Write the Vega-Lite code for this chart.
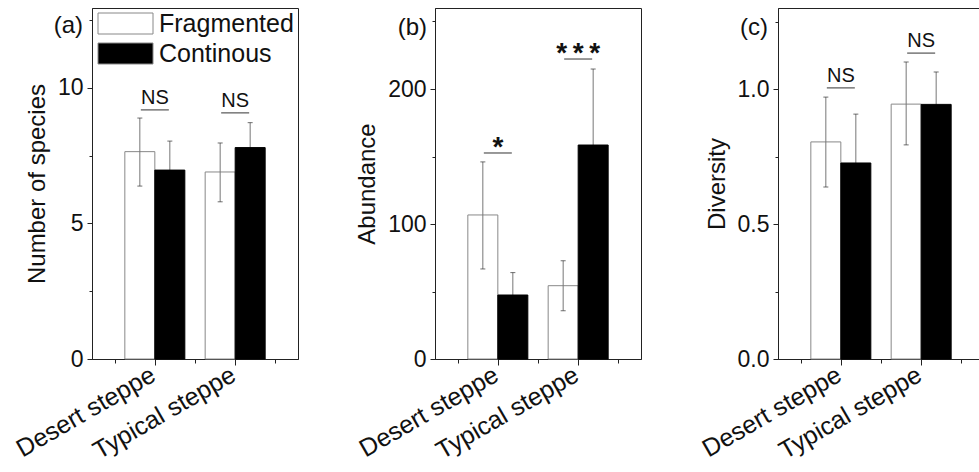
{
  "$schema": "https://vega.github.io/schema/vega-lite/v6.json",
  "autosize": {"type": "none"},
  "padding": {"left": 92, "top": 8, "right": 887, "bottom": 464},
  "background": "white",
  "config": {
    "font": "Liberation Sans",
    "view": {"stroke": "#222", "strokeWidth": 1},
    "axis": {"domainColor": "#222", "tickColor": "#222", "labelColor": "#111", "titleColor": "#111", "labelFontSize": 23, "titleFontSize": 24, "titleFontWeight": "normal", "grid": false, "labelFont": "Liberation Sans", "titleFont": "Liberation Sans", "labelPadding": 4, "titlePadding": 8},
    "title": {"font": "Liberation Sans", "fontSize": 24, "fontWeight": "normal", "color": "#111"}
  },
  "datasets": {
    "bars": [
      {"panel": "a", "habitat": "Desert steppe", "pos": 1, "group": "Fragmented", "mean": 7.65, "lo": 6.38, "hi": 8.89},
      {"panel": "a", "habitat": "Desert steppe", "pos": 1, "group": "Continous", "mean": 6.97, "lo": 5.9, "hi": 8.04},
      {"panel": "a", "habitat": "Typical steppe", "pos": 2, "group": "Fragmented", "mean": 6.9, "lo": 5.8, "hi": 7.97},
      {"panel": "a", "habitat": "Typical steppe", "pos": 2, "group": "Continous", "mean": 7.8, "lo": 6.88, "hi": 8.72},
      {"panel": "b", "habitat": "Desert steppe", "pos": 1, "group": "Fragmented", "mean": 106.7, "lo": 66.7, "hi": 146},
      {"panel": "b", "habitat": "Desert steppe", "pos": 1, "group": "Continous", "mean": 47.4, "lo": 31, "hi": 64},
      {"panel": "b", "habitat": "Typical steppe", "pos": 2, "group": "Fragmented", "mean": 54.3, "lo": 35.8, "hi": 72.8},
      {"panel": "b", "habitat": "Typical steppe", "pos": 2, "group": "Continous", "mean": 158.5, "lo": 102, "hi": 214.8},
      {"panel": "c", "habitat": "Desert steppe", "pos": 1, "group": "Fragmented", "mean": 0.804, "lo": 0.637, "hi": 0.97},
      {"panel": "c", "habitat": "Desert steppe", "pos": 1, "group": "Continous", "mean": 0.726, "lo": 0.545, "hi": 0.907},
      {"panel": "c", "habitat": "Typical steppe", "pos": 2, "group": "Fragmented", "mean": 0.944, "lo": 0.793, "hi": 1.1},
      {"panel": "c", "habitat": "Typical steppe", "pos": 2, "group": "Continous", "mean": 0.943, "lo": 0.823, "hi": 1.063}
    ],
    "sig": [
      {"panel": "a", "pos": 1, "label": "NS", "level": 9.19},
      {"panel": "a", "pos": 2, "label": "NS", "level": 9.08},
      {"panel": "b", "pos": 1, "label": "*", "level": 152.6},
      {"panel": "b", "pos": 2, "label": "*\u2009*\u2009*", "level": 222.2},
      {"panel": "c", "pos": 1, "label": "NS", "level": 1.004},
      {"panel": "c", "pos": 2, "label": "NS", "level": 1.133}
    ]
  },
  "spacing": 137,
  "bounds": "flush",
  "resolve": {"scale": {"fill": "independent"}, "legend": {"fill": "independent"}},
  "hconcat": [
    {
      "width": 206, "height": 351,
      "title": {"text": "(a)", "anchor": "start", "frame": "group", "align": "right", "baseline": "middle", "dx": -9, "dy": 42, "offset": 0},
      "encoding": {
        "x": {"field": "pos", "type": "quantitative", "scale": {"domain": [0.28, 2.72], "nice": false, "zero": false},
          "axis": {"values": [0.5, 1, 1.5, 2, 2.5], "labelExpr": "datum.value==1?'Desert steppe':datum.value==2?'Typical steppe':''", "labelAngle": -30, "labelAlign": "right", "labelBaseline": "top", "labelPadding": -3, "labelOffset": -8, "labelFontSize": 25, "labelOverlap": false, "labelBound": false, "labelFlush": false, "tickSize": {"condition": {"test": "datum.value==1||datum.value==2", "value": 6}, "value": 4}, "title": null}}
      },
      "layer": [
        {"data": {"name": "bars"}, "transform": [{"filter": "datum.panel=='a' && datum.group=='Fragmented'"}],
          "mark": {"type": "bar", "width": 30, "xOffset": -15, "stroke": "#888", "strokeWidth": 1},
          "encoding": {
            "y": {"field": "mean", "type": "quantitative", "scale": {"domain": [0, 12.95], "nice": false}, "title": "Number of species",
              "axis": {"values": [0, 2.5, 5, 7.5, 10, 12.5], "labelExpr": "datum.value%5==0?datum.label:''", "tickSize": {"condition": {"test": "datum.value%5==0", "value": 5}, "value": 3}}},
            "fill": {"field": "group", "type": "nominal", "scale": {"domain": ["Fragmented", "Continous"], "range": ["white", "black"]},
              "legend": {"title": null, "orient": "none", "legendX": 21, "legendY": 3, "padding": 0, "symbolType": "M-2.619,-1H2.619V1H-2.619Z", "symbolSize": 441, "labelFontSize": 25, "labelOffset": 21, "rowPadding": 4, "symbolStrokeColor": "#888", "symbolStrokeWidth": 1, "labelColor": "#111", "labelFont": "Liberation Sans", "symbolOpacity": 1}}
          }},
        {"data": {"name": "bars"}, "transform": [{"filter": "datum.panel=='a' && datum.group=='Fragmented'"}],
          "mark": {"type": "rule", "xOffset": -15, "color": "#777", "strokeWidth": 1},
          "encoding": {"y": {"field": "lo", "type": "quantitative", "title": "Number of species"}, "y2": {"field": "hi"}}},
        {"data": {"name": "bars"}, "transform": [{"filter": "datum.panel=='a' && datum.group=='Fragmented'"}],
          "mark": {"type": "tick", "orient": "horizontal", "size": 5, "thickness": 1, "xOffset": -15, "color": "#333"},
          "encoding": {"y": {"field": "hi", "type": "quantitative", "title": "Number of species"}}},
        {"data": {"name": "bars"}, "transform": [{"filter": "datum.panel=='a' && datum.group=='Fragmented'"}],
          "mark": {"type": "tick", "orient": "horizontal", "size": 5, "thickness": 1, "xOffset": -15, "color": "#333"},
          "encoding": {"y": {"field": "lo", "type": "quantitative", "title": "Number of species"}}},
        {"data": {"name": "bars"}, "transform": [{"filter": "datum.panel=='a' && datum.group=='Continous'"}],
          "mark": {"type": "rule", "xOffset": 15, "color": "#777", "strokeWidth": 1},
          "encoding": {"y": {"field": "lo", "type": "quantitative", "title": "Number of species"}, "y2": {"field": "hi"}}},
        {"data": {"name": "bars"}, "transform": [{"filter": "datum.panel=='a' && datum.group=='Continous'"}],
          "mark": {"type": "bar", "width": 30, "xOffset": 15, "fill": "black", "stroke": "black", "strokeWidth": 1},
          "encoding": {"y": {"field": "mean", "type": "quantitative", "title": "Number of species"}}},
        {"data": {"name": "bars"}, "transform": [{"filter": "datum.panel=='a' && datum.group=='Continous'"}],
          "mark": {"type": "tick", "orient": "horizontal", "size": 5, "thickness": 1, "xOffset": 15, "color": "#333"},
          "encoding": {"y": {"field": "hi", "type": "quantitative", "title": "Number of species"}}},
        {"data": {"name": "sig"}, "transform": [{"filter": "datum.panel=='a'"}],
          "mark": {"type": "rule", "xOffset": -14, "x2Offset": 14, "color": "#333", "strokeWidth": 1},
          "encoding": {"x2": {"field": "pos"}, "y": {"field": "level", "type": "quantitative", "title": "Number of species"}}},
        {"data": {"name": "sig"}, "transform": [{"filter": "datum.panel=='a'"}],
          "mark": {"type": "text", "baseline": "alphabetic", "dy": -6, "fontSize": 20, "color": "#111", "font": "Liberation Sans"},
          "encoding": {"y": {"field": "level", "type": "quantitative", "title": "Number of species"}, "text": {"field": "label"}}}
      ]
    },
    {
      "width": 206, "height": 351,
      "title": {"text": "(b)", "anchor": "start", "frame": "group", "align": "right", "baseline": "middle", "dx": -8, "dy": 44, "offset": 0},
      "encoding": {
        "x": {"field": "pos", "type": "quantitative", "scale": {"domain": [0.28, 2.72], "nice": false, "zero": false},
          "axis": {"values": [0.5, 1, 1.5, 2, 2.5], "labelExpr": "datum.value==1?'Desert steppe':datum.value==2?'Typical steppe':''", "labelAngle": -30, "labelAlign": "right", "labelBaseline": "top", "labelPadding": -3, "labelOffset": -8, "labelFontSize": 25, "labelOverlap": false, "labelBound": false, "labelFlush": false, "tickSize": {"condition": {"test": "datum.value==1||datum.value==2", "value": 6}, "value": 4}, "title": null}}
      },
      "layer": [
        {"data": {"name": "bars"}, "transform": [{"filter": "datum.panel=='b' && datum.group=='Fragmented'"}],
          "mark": {"type": "bar", "width": 30, "xOffset": -15, "stroke": "#888", "strokeWidth": 1},
          "encoding": {
            "y": {"field": "mean", "type": "quantitative", "scale": {"domain": [0, 260], "nice": false}, "title": "Abundance",
              "axis": {"values": [0, 50, 100, 150, 200, 250], "labelExpr": "datum.value%100==0?datum.label:''", "tickSize": {"condition": {"test": "datum.value%100==0", "value": 5}, "value": 3}}},
            "fill": {"field": "group", "type": "nominal", "scale": {"domain": ["Fragmented", "Continous"], "range": ["white", "black"]}, "legend": null}
          }},
        {"data": {"name": "bars"}, "transform": [{"filter": "datum.panel=='b' && datum.group=='Fragmented'"}],
          "mark": {"type": "rule", "xOffset": -15, "color": "#777", "strokeWidth": 1},
          "encoding": {"y": {"field": "lo", "type": "quantitative", "title": "Abundance"}, "y2": {"field": "hi"}}},
        {"data": {"name": "bars"}, "transform": [{"filter": "datum.panel=='b' && datum.group=='Fragmented'"}],
          "mark": {"type": "tick", "orient": "horizontal", "size": 5, "thickness": 1, "xOffset": -15, "color": "#333"},
          "encoding": {"y": {"field": "hi", "type": "quantitative", "title": "Abundance"}}},
        {"data": {"name": "bars"}, "transform": [{"filter": "datum.panel=='b' && datum.group=='Fragmented'"}],
          "mark": {"type": "tick", "orient": "horizontal", "size": 5, "thickness": 1, "xOffset": -15, "color": "#333"},
          "encoding": {"y": {"field": "lo", "type": "quantitative", "title": "Abundance"}}},
        {"data": {"name": "bars"}, "transform": [{"filter": "datum.panel=='b' && datum.group=='Continous'"}],
          "mark": {"type": "rule", "xOffset": 15, "color": "#777", "strokeWidth": 1},
          "encoding": {"y": {"field": "lo", "type": "quantitative", "title": "Abundance"}, "y2": {"field": "hi"}}},
        {"data": {"name": "bars"}, "transform": [{"filter": "datum.panel=='b' && datum.group=='Continous'"}],
          "mark": {"type": "bar", "width": 30, "xOffset": 15, "fill": "black", "stroke": "black", "strokeWidth": 1},
          "encoding": {"y": {"field": "mean", "type": "quantitative", "title": "Abundance"}}},
        {"data": {"name": "bars"}, "transform": [{"filter": "datum.panel=='b' && datum.group=='Continous'"}],
          "mark": {"type": "tick", "orient": "horizontal", "size": 5, "thickness": 1, "xOffset": 15, "color": "#333"},
          "encoding": {"y": {"field": "hi", "type": "quantitative", "title": "Abundance"}}},
        {"data": {"name": "sig"}, "transform": [{"filter": "datum.panel=='b'"}],
          "mark": {"type": "rule", "xOffset": -14, "x2Offset": 14, "color": "#333", "strokeWidth": 1},
          "encoding": {"x2": {"field": "pos"}, "y": {"field": "level", "type": "quantitative", "title": "Abundance"}}},
        {"data": {"name": "sig"}, "transform": [{"filter": "datum.panel=='b'"}],
          "mark": {"type": "text", "baseline": "alphabetic", "dy": 3, "fontSize": 28, "fontWeight": "bold", "color": "#111", "font": "Liberation Sans"},
          "encoding": {"y": {"field": "level", "type": "quantitative", "title": "Abundance"}, "text": {"field": "label"}}}
      ]
    },
    {
      "width": 206, "height": 351,
      "title": {"text": "(c)", "anchor": "start", "frame": "group", "align": "right", "baseline": "middle", "dx": -10, "dy": 44, "offset": 0},
      "encoding": {
        "x": {"field": "pos", "type": "quantitative", "scale": {"domain": [0.28, 2.72], "nice": false, "zero": false},
          "axis": {"values": [0.5, 1, 1.5, 2, 2.5], "labelExpr": "datum.value==1?'Desert steppe':datum.value==2?'Typical steppe':''", "labelAngle": -30, "labelAlign": "right", "labelBaseline": "top", "labelPadding": -3, "labelOffset": -8, "labelFontSize": 25, "labelOverlap": false, "labelBound": false, "labelFlush": false, "tickSize": {"condition": {"test": "datum.value==1||datum.value==2", "value": 6}, "value": 4}, "title": null}}
      },
      "layer": [
        {"data": {"name": "bars"}, "transform": [{"filter": "datum.panel=='c' && datum.group=='Fragmented'"}],
          "mark": {"type": "bar", "width": 30, "xOffset": -15, "stroke": "#888", "strokeWidth": 1},
          "encoding": {
            "y": {"field": "mean", "type": "quantitative", "scale": {"domain": [0, 1.3], "nice": false}, "title": "Diversity",
              "axis": {"values": [0, 0.25, 0.5, 0.75, 1, 1.25], "format": ".1f", "labelExpr": "datum.value==0||datum.value==0.5||datum.value==1?datum.label:''", "tickSize": {"condition": {"test": "datum.value==0||datum.value==0.5||datum.value==1", "value": 5}, "value": 3}}},
            "fill": {"field": "group", "type": "nominal", "scale": {"domain": ["Fragmented", "Continous"], "range": ["white", "black"]}, "legend": null}
          }},
        {"data": {"name": "bars"}, "transform": [{"filter": "datum.panel=='c' && datum.group=='Fragmented'"}],
          "mark": {"type": "rule", "xOffset": -15, "color": "#777", "strokeWidth": 1},
          "encoding": {"y": {"field": "lo", "type": "quantitative", "title": "Diversity"}, "y2": {"field": "hi"}}},
        {"data": {"name": "bars"}, "transform": [{"filter": "datum.panel=='c' && datum.group=='Fragmented'"}],
          "mark": {"type": "tick", "orient": "horizontal", "size": 5, "thickness": 1, "xOffset": -15, "color": "#333"},
          "encoding": {"y": {"field": "hi", "type": "quantitative", "title": "Diversity"}}},
        {"data": {"name": "bars"}, "transform": [{"filter": "datum.panel=='c' && datum.group=='Fragmented'"}],
          "mark": {"type": "tick", "orient": "horizontal", "size": 5, "thickness": 1, "xOffset": -15, "color": "#333"},
          "encoding": {"y": {"field": "lo", "type": "quantitative", "title": "Diversity"}}},
        {"data": {"name": "bars"}, "transform": [{"filter": "datum.panel=='c' && datum.group=='Continous'"}],
          "mark": {"type": "rule", "xOffset": 15, "color": "#777", "strokeWidth": 1},
          "encoding": {"y": {"field": "lo", "type": "quantitative", "title": "Diversity"}, "y2": {"field": "hi"}}},
        {"data": {"name": "bars"}, "transform": [{"filter": "datum.panel=='c' && datum.group=='Continous'"}],
          "mark": {"type": "bar", "width": 30, "xOffset": 15, "fill": "black", "stroke": "black", "strokeWidth": 1},
          "encoding": {"y": {"field": "mean", "type": "quantitative", "title": "Diversity"}}},
        {"data": {"name": "bars"}, "transform": [{"filter": "datum.panel=='c' && datum.group=='Continous'"}],
          "mark": {"type": "tick", "orient": "horizontal", "size": 5, "thickness": 1, "xOffset": 15, "color": "#333"},
          "encoding": {"y": {"field": "hi", "type": "quantitative", "title": "Diversity"}}},
        {"data": {"name": "sig"}, "transform": [{"filter": "datum.panel=='c'"}],
          "mark": {"type": "rule", "xOffset": -14, "x2Offset": 14, "color": "#333", "strokeWidth": 1},
          "encoding": {"x2": {"field": "pos"}, "y": {"field": "level", "type": "quantitative", "title": "Diversity"}}},
        {"data": {"name": "sig"}, "transform": [{"filter": "datum.panel=='c'"}],
          "mark": {"type": "text", "baseline": "alphabetic", "dy": -6, "fontSize": 20, "color": "#111", "font": "Liberation Sans"},
          "encoding": {"y": {"field": "level", "type": "quantitative", "title": "Diversity"}, "text": {"field": "label"}}}
      ]
    }
  ]
}
